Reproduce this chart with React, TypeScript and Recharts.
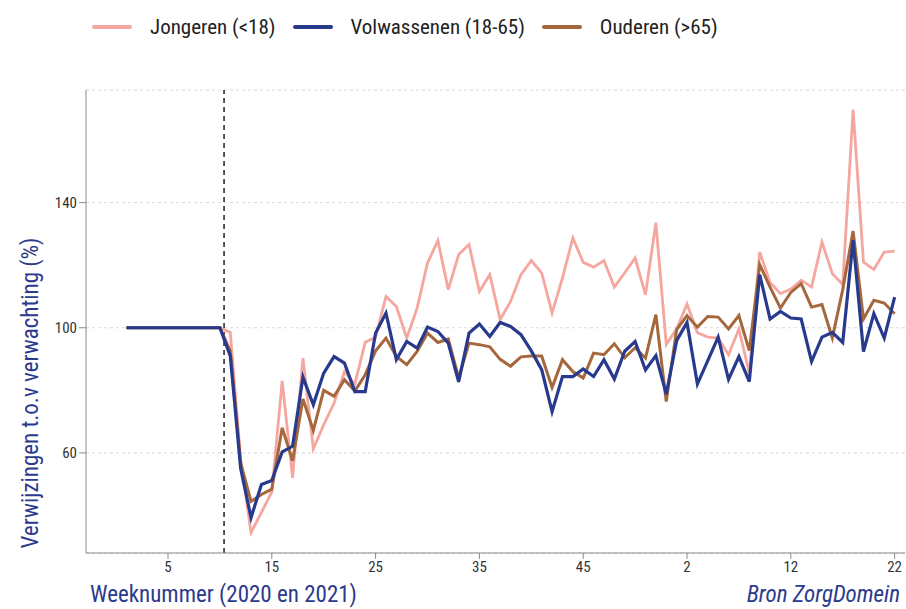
import { LineChart, Line, XAxis, YAxis, CartesianGrid, ReferenceLine } from "recharts";

// weeknummers 2020 (1-53) en 2021 (1-22)
const weekNr = [
  1, 2, 3, 4, 5, 6, 7, 8, 9, 10, 11, 12, 13, 14, 15, 16, 17, 18, 19, 20,
  21, 22, 23, 24, 25, 26, 27, 28, 29, 30, 31, 32, 33, 34, 35, 36, 37, 38, 39, 40,
  41, 42, 43, 44, 45, 46, 47, 48, 49, 50, 51, 52, 53,
  1, 2, 3, 4, 5, 6, 7, 8, 9, 10, 11, 12, 13, 14, 15, 16, 17, 18, 19, 20, 21, 22,
];

const jongeren = [
  100, 100, 100, 100, 100, 100, 100, 100, 100, 100,
  98.5, 58, 34.5, 41, 47.5, 83, 52, 90.3, 61.3, 69,
  75.9, 86, 82, 95.4, 97, 110, 106.8, 96.7, 106.3, 120.7,
  127.9, 112.2, 123.4, 126.6, 111.6, 117, 102.6, 108.4, 117, 121.5,
  117.5, 104.7, 115.9, 128.7, 120.9, 119.4, 121.5, 113, 117.6, 122.3,
  110.6, 133.6, 94.7, 99.6, 107.6, 98.4, 97, 96.7, 91.4, 99.6,
  85.5, 124.2, 114.5, 110.9, 112.4, 115.2, 113, 127.4, 117.3, 113.8,
  169.7, 121, 118.6, 124.2, 124.5,
];

const volwassenen = [
  100, 100, 100, 100, 100, 100, 100, 100, 100, 100,
  91, 55, 39.3, 49.9, 51.2, 60.3, 62.1, 84.2, 75.4, 85.5,
  90.8, 88.7, 79.6, 79.6, 98.3, 104.7, 89.8, 95.6, 93.5, 100.2,
  98.8, 95.1, 82.7, 98.3, 101.2, 97.2, 101.7, 100.4, 97.8, 92.6,
  86.6, 73.2, 84.4, 84.4, 86.8, 84.4, 89.8, 83.6, 92.5, 95.6,
  86.5, 91.1, 78.8, 95.9, 101.7, 82, 89.5, 97, 83.5, 90.8,
  82.8, 117, 102.8, 105.2, 103.1, 102.8, 89.2, 97, 98.5, 95.3,
  128, 92.4, 104.5, 96.7, 109.8,
];

const ouderen = [
  100, 100, 100, 100, 100, 100, 100, 100, 100, 100,
  92.5, 56.8, 44.5, 46.7, 48.4, 68, 57.5, 77.2, 67.2, 80,
  78.1, 83.4, 79.8, 85, 92.6, 96.7, 90.8, 88.2, 92.4, 98.3,
  95.3, 96.4, 84, 95.1, 94.6, 93.9, 89.9, 87.7, 90.7, 91,
  91, 80.9, 89.8, 86, 83.9, 91.9, 91.4, 94.9, 90.4, 93.6,
  90.3, 104.2, 76.4, 99.4, 103.9, 100.2, 103.6, 103.4, 99.6, 103.9,
  92.7, 120.2, 113, 106.3, 111.3, 114.1, 106.6, 107.4, 96.7, 112.2,
  130.9, 102.8, 108.8, 107.9, 104.5,
];

const xTicks = [5, 15, 25, 35, 45, 55, 65, 75];
const yTicks = [60, 100, 140];
const lockdownWeek = 10.4;

const series = [
  { key: "jongeren", name: "Jongeren (<18)", color: "#f5a79f", width: 2.8 },
  { key: "ouderen", name: "Ouderen (>65)", color: "#a5673b", width: 3 },
  { key: "volwassenen", name: "Volwassenen (18-65)", color: "#283a8e", width: 3.2 },
];
const legendOrder = ["jongeren", "volwassenen", "ouderen"];

const data = weekNr.map((w, i) => ({
  idx: i + 1,
  week: w,
  jongeren: jongeren[i],
  volwassenen: volwassenen[i],
  ouderen: ouderen[i],
}));

const FONT = "'Liberation Sans Narrow', 'Roboto Condensed', 'Open Sans', sans-serif";
const NAVY = "#2b3a8c";

const LegendRow = () => (
  <div style={{ position: "absolute", top: 15, left: 92, display: "flex", alignItems: "center" }}>
    {legendOrder.map((k) => {
      const s = series.find((x) => x.key === k)!;
      return (
        <div key={k} style={{ display: "flex", alignItems: "center", marginRight: 17 }}>
          <span style={{ display: "inline-block", width: 40, height: 4, borderRadius: 2, background: s.color, marginRight: 18 }} />
          <span style={{ fontSize: 21, color: "#222" }}>{s.name}</span>
        </div>
      );
    })}
  </div>
);

export default function App() {
  return (
    <div style={{ position: "relative", width: 906, height: 609, background: "#fff", fontFamily: FONT }}>
      <style>{`body{margin:0}`}</style>
      <LineChart width={906} height={609} data={data} margin={{ top: 90, right: 1, bottom: 0, left: 0 }}>
        <CartesianGrid vertical={false} stroke="#d9d9d9" strokeDasharray="3 3" />
        <XAxis
          type="number"
          dataKey="idx"
          domain={[-2.9, 76]}
          ticks={xTicks}
          tickFormatter={(v: number) => String(weekNr[v - 1])}
          height={56}
          stroke="#8a8a8a"
          tickSize={6}
          tick={{ fill: "#333", fontSize: 15, fontFamily: FONT }}
        />
        <YAxis
          type="number"
          domain={[28, 176]}
          ticks={yTicks}
          width={86}
          stroke="#8a8a8a"
          tickSize={7}
          tick={{ fill: "#333", fontSize: 15, fontFamily: FONT }}
        />
        <ReferenceLine x={lockdownWeek} stroke="#222" strokeWidth={1.5} strokeDasharray="5 4" />
        {series.map((s) => (
          <Line
            key={s.key}
            type="linear"
            dataKey={s.key}
            name={s.name}
            stroke={s.color}
            strokeWidth={s.width}
            dot={false}
            activeDot={false}
            isAnimationActive={false}
          />
        ))}
      </LineChart>
      <LegendRow />
      <div
        style={{
          position: "absolute",
          left: 30,
          top: 393,
          transform: "translate(-50%, -50%) rotate(-90deg)",
          whiteSpace: "nowrap",
          fontSize: 23,
          color: NAVY,
        }}
      >
        Verwijzingen t.o.v verwachting (%)
      </div>
      <div style={{ position: "absolute", left: 90, top: 581, fontSize: 23, color: NAVY, whiteSpace: "nowrap" }}>
        Weeknummer (2020 en 2021)
      </div>
      <div style={{ position: "absolute", right: 6, top: 581, fontSize: 23, color: NAVY, fontStyle: "italic", whiteSpace: "nowrap" }}>
        Bron ZorgDomein
      </div>
    </div>
  );
}
